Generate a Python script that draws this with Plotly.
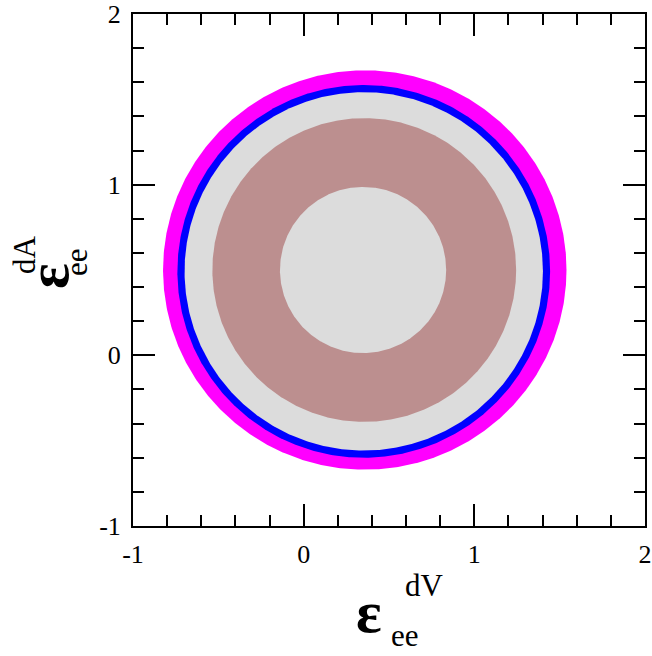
import numpy as np
import plotly.graph_objects as go

# Regions (drawn back to front): centre x, centre y, radius, colour
region_names = ["outer_magenta", "blue", "gray_outer", "rosybrown", "gray_inner"]
center_x = [0.358, 0.352, 0.352, 0.355, 0.348]
center_y = [0.50, 0.492, 0.492, 0.50, 0.50]
radius_x = [1.182, 1.092, 1.05, 0.89, 0.487]
radius_y = [1.17, 1.092, 1.05, 0.89, 0.487]
colors = ["#FF00FF", "#0000FF", "#DCDCDC", "#BC8F8F", "#DCDCDC"]

x_ticks = [-1, 0, 1, 2]
y_ticks = [-1, 0, 1, 2]

theta = np.linspace(0, 2 * np.pi, 721)

fig = go.Figure()
for name, cx, cy, rx, ry, col in zip(region_names, center_x, center_y, radius_x, radius_y, colors):
    fig.add_trace(go.Scatter(
        x=cx + rx * np.cos(theta), y=cy + ry * np.sin(theta),
        mode="lines", fill="toself", fillcolor=col,
        line=dict(color=col, width=0), name=name, hoverinfo="skip",
        showlegend=False))

L, R, T, B = 133, 645, 14, 526
W, H = 652, 656


def px(xp, yp):
    return (xp - L) / (R - L), (B - yp) / (B - T)


axis_common = dict(
    range=[-1, 2], tickmode="array", showgrid=False, zeroline=False, automargin=False,
    showline=True, linewidth=2, linecolor="black", mirror="ticks",
    ticks="inside", ticklen=22, tickwidth=2, tickcolor="black",
    tickfont=dict(family="Liberation Serif", size=26, color="black"),
    minor=dict(dtick=0.2, ticks="inside", ticklen=11, tickwidth=2, tickcolor="black", showgrid=False),
)
fig.update_xaxes(**axis_common, tickvals=x_ticks, ticktext=[str(v) for v in x_ticks], ticklabelstandoff=4)
fig.update_yaxes(**axis_common, tickvals=y_ticks, ticktext=[str(v) for v in y_ticks], ticklabelstandoff=5)

font_eps = dict(family="Liberation Serif", size=60, color="black")
font_small = dict(family="Liberation Serif", size=31, color="black")
ann = []
# x title
for txt, (xp_, yp_), f in [("<b>ε</b>", (369, 612), font_eps), ("dV", (424, 585), font_small), ("ee", (405, 635), font_small)]:
    ax, ay = px(xp_, yp_)
    ann.append(dict(text=txt, x=ax, y=ay, xref="paper", yref="paper", showarrow=False,
                    xanchor="center", yanchor="middle", font=f))
# y title (rotated)
for txt, (xp_, yp_), f in [("<b>ε</b>", (48, 276), font_eps), ("dA", (24, 255), font_small), ("ee", (76, 262), font_small)]:
    ax, ay = px(xp_, yp_)
    ann.append(dict(text=txt, x=ax, y=ay, xref="paper", yref="paper", showarrow=False,
                    xanchor="center", yanchor="middle", textangle=-90, font=f))

fig.update_layout(
    width=W, height=H, margin=dict(l=L, r=W - R, t=T, b=H - B, autoexpand=False),
    plot_bgcolor="white", paper_bgcolor="white", annotations=ann,
)
fig.write_html("out.html", config={"displayModeBar": False},
               post_script="document.body.style.margin='0';document.body.style.overflow='hidden';")
